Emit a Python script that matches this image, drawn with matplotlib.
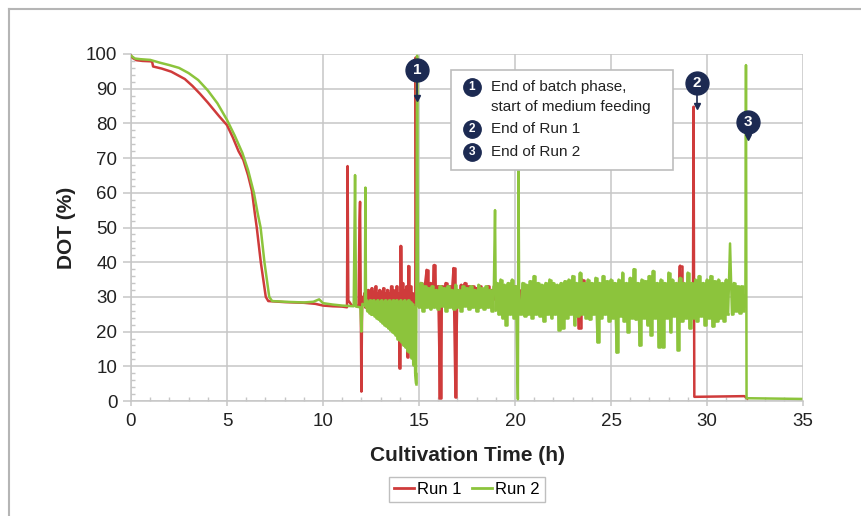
import numpy as np
import matplotlib
matplotlib.use("Agg")
import matplotlib.pyplot as plt
from matplotlib.lines import Line2D
from matplotlib.patches import Rectangle

plt.rcParams['font.family'] = ['Liberation Sans', 'DejaVu Sans']

# ---- data (DOT in %, time in h) ----
# Run 1: batch phase decline
run1_t_ramp = [0, 0.1, 0.3, 0.6, 1.0, 1.1, 1.15, 1.6, 2.1, 2.4, 2.8, 3.2, 3.6, 4.0, 4.3, 4.6, 5.0,
               5.3, 5.6, 5.85, 6.1, 6.3, 6.45, 6.55, 6.76, 7.02, 7.15, 8.0, 9.0, 9.6, 10.0, 10.5, 11.0, 11.25]
run1_dot_ramp = [99.5, 98.8, 98.2, 98.0, 97.9, 97.8, 96.4, 95.8, 94.9, 94.0, 92.8, 90.8, 88.5, 86.0, 84.0,
                 82.0, 79.5, 76.0, 72.0, 69.5, 65.0, 60.5, 54.0, 50.0, 40.0, 30.0, 28.8, 28.5, 28.3, 28.0,
                 27.5, 27.3, 27.2, 27.0]
run1_t_spikes = [11.28, 11.32, 11.5, 11.85, 11.9, 11.93, 11.97, 12.0, 12.04]
run1_dot_spikes = [67.7, 29, 27.5, 27.5, 52, 57.4, 28, 2.7, 30]
# 12.1 h .. 14.8 h
run1_noise_a = [28, 31, 27, 31.5, 28, 32, 29, 31, 28.5, 32.5, 29, 31.5, 28, 33, 29, 31, 27.5, 32, 28, 31.5,
                27, 32.5, 28, 31, 26.5, 32, 27.5, 31, 26, 33, 27, 32, 25, 31, 24, 33, 26, 31, 9.5, 44.7,
                27, 34, 24, 32, 22, 33, 12.8, 38.9, 24, 33, 20, 31, 15.7, 29, 10]
run1_t_feed = [14.83, 14.87]
run1_dot_feed = [99, 30]
# 15.0 h .. 19.0 h
run1_noise_b = [28, 34, 29, 33, 37.8, 29, 34, 30, 39.2, 29, 33, 1, 33, 30, 34, 29.5, 33, 30, 38.3, 1.2,
                32, 29, 33.5, 30, 34, 29.5, 33, 30, 33, 29, 32.5, 29.5, 33, 30, 32, 29, 33, 30, 32, 29.5, 32]
# 19.15 h .. 29.2 h
run1_noise_c = [27, 33, 26.5, 32.5, 27, 33, 26, 32, 27, 33.5, 26.5, 32, 27, 33, 26, 32.5, 27, 33, 26.5, 32,
                27, 33, 26, 32.5, 27, 33, 26.5, 32, 21, 35, 27, 32.5, 26, 33, 27, 32, 26.5, 33.5, 27, 32,
                26, 33, 27, 32.5, 26.5, 33, 27, 32, 26, 33, 27, 32.5, 26.5, 33, 27, 32, 26, 33.5, 27, 32,
                26.5, 33, 27, 39, 26, 32.5, 27, 32]
run1_t_end = [29.27, 29.3, 29.34, 31.95, 32.1]
run1_dot_end = [30, 84.8, 1.2, 1.4, 0.7]

# Run 2
run2_t_ramp = [0, 0.2, 0.5, 1.0, 1.5, 2.0, 2.5, 3.0, 3.5, 4.0, 4.5, 5.0, 5.4, 5.8, 6.1, 6.4, 6.6, 6.75,
               6.95, 7.2, 7.35, 8.0, 9.0, 9.5, 9.8, 10.0, 10.5, 11.0, 11.6]
run2_dot_ramp = [99.5, 98.7, 98.5, 98.3, 97.5, 96.8, 96.0, 94.5, 92.5, 89.5, 85.8, 81.0, 76.5, 71.5, 66.5,
                 60.0, 54.0, 50.0, 40.0, 30.0, 28.8, 28.6, 28.4, 28.6, 29.3, 28.2, 27.8, 27.5, 27.3]
run2_t_spikes = [11.67, 11.72, 11.95, 12.0, 12.05, 12.18, 12.21, 12.24]
run2_dot_spikes = [65.1, 27.2, 27.0, 20.0, 28.0, 27.5, 61.5, 27.0]
# 12.25 h .. 14.85 h
run2_noise_a = [29, 26, 28.5, 25.5, 29, 25, 28.5, 25, 29, 24.5, 28.5, 24, 29, 23.5, 28.5, 23, 29, 22.5,
                28.5, 22, 29, 21.5, 28.5, 21, 29, 20.5, 28.5, 20, 29, 19.5, 28.5, 19, 29, 18, 28.5, 17.5,
                29, 17, 28.5, 16, 29, 15.5, 28.5, 14.5, 29, 14, 28.5, 12.5, 28, 10.5, 27, 8, 5]
run2_t_feed = [14.9, 14.95]
run2_dot_feed = [99.5, 30]
# 15.0 h .. 18.9 h
run2_noise_b = [27, 34, 26, 33, 27, 32.5, 26.5, 33, 27, 32, 26.5, 33, 27.5, 32.5, 26, 33, 27, 32, 26.5, 33.5,
                27, 32, 26, 33, 27.5, 32.5, 26.5, 33, 27, 32, 26, 33.5, 27, 32.5, 26.5, 33, 27, 32, 26, 33]
run2_t_mid = [18.96, 19.0]
run2_dot_mid = [55, 26]
# 19.05 h .. 20.05 h
run2_noise_c = [34, 25, 35, 24, 33.5, 22, 34, 25, 35, 24, 33]
run2_t_dip = [20.15, 20.18, 20.22]
run2_dot_dip = [0.5, 68, 25]
# 20.3 h .. 31.1 h
run2_noise_d = [25, 34, 24.5, 33.5, 25, 34.5, 24, 36, 25, 34, 24.5, 33.5, 23, 34, 25, 35, 24, 34, 25, 33.5,
                20.5, 34, 21, 34.5, 24, 35, 25, 36, 22, 34, 24.5, 37, 25, 34, 24, 35, 23.5, 34, 25, 35.5,
                17, 34, 24, 36, 25, 34.5, 23, 35, 24, 34, 14, 35, 24.5, 37, 23, 34, 20, 35.5, 24, 38,
                23.5, 34, 16, 35, 24, 34.5, 22, 36, 19, 37.5, 24, 34, 15.6, 35, 15.6, 34, 24, 37, 20, 35,
                24.5, 34, 14.7, 35.5, 23, 34, 24, 37, 21, 34, 24, 35, 23, 36, 24.5, 34, 22, 35, 24, 36,
                21.5, 34.5, 23, 35, 24, 34, 23, 35, 25]
run2_t_late = [31.2]
run2_dot_late = [45.4]
# 31.3 h .. 32.0 h
run2_noise_e = [25, 34, 26, 33, 25.5, 33, 26, 30.5]
run2_t_end = [32.03, 32.06, 34.9]
run2_dot_end = [96.8, 0.8, 0.6]

# event markers: label, time, circle DOT, arrow tip DOT
events = [("1", 14.9, 95.4, 87.2), ("2", 29.46, 91.6, 85.0), ("3", 32.12, 80.5, 76.0)]
event_text = [["End of batch phase,", "start of medium feeding"], ["End of Run 1"], ["End of Run 2"]]


def noise(t0, t1, vals):
    return list(np.linspace(t0, t1, len(vals))), list(vals)


noise1 = [noise(12.1, 14.8, run1_noise_a), noise(15.0, 19.0, run1_noise_b),
          noise(19.15, 29.2, run1_noise_c)]
noise2 = [noise(12.25, 14.85, run2_noise_a), noise(15.0, 18.9, run2_noise_b),
          noise(19.05, 20.05, run2_noise_c), noise(20.3, 31.1, run2_noise_d),
          noise(31.3, 32.0, run2_noise_e)]

pieces1 = [(run1_t_ramp, run1_dot_ramp), (run1_t_spikes, run1_dot_spikes), noise1[0],
           (run1_t_feed, run1_dot_feed), noise1[1], noise1[2], (run1_t_end, run1_dot_end)]
pieces2 = [(run2_t_ramp, run2_dot_ramp), (run2_t_spikes, run2_dot_spikes), noise2[0],
           (run2_t_feed, run2_dot_feed), noise2[1], (run2_t_mid, run2_dot_mid), noise2[2],
           (run2_t_dip, run2_dot_dip), noise2[3], (run2_t_late, run2_dot_late), noise2[4],
           (run2_t_end, run2_dot_end)]

run1_t = [t for p in pieces1 for t in p[0]]
run1_dot = [v for p in pieces1 for v in p[1]]
run2_t = [t for p in pieces2 for t in p[0]]
run2_dot = [v for p in pieces2 for v in p[1]]

RED = '#cf3b3b'
GREEN = '#8cc43c'
NAVY = '#1c2a52'
GRID = '#c6c6c6'

fig = plt.figure(figsize=(8.61, 5.16), dpi=100)
ax = fig.add_axes([131 / 861, 1 - 401 / 516, 672 / 861, 347 / 516])

ax.plot(run1_t, run1_dot, color=RED, lw=1.8, zorder=3)
for t, v in noise1:
    ax.plot(t, v, color=RED, lw=1.8, zorder=3, drawstyle='steps-mid')
ax.plot(run2_t, run2_dot, color=GREEN, lw=1.8, zorder=4)
for t, v in noise2:
    ax.plot(t, v, color=GREEN, lw=1.8, zorder=4, drawstyle='steps-mid')

ax.set_xlim(0, 35)
ax.set_ylim(0, 100)
ax.set_xticks(np.arange(0, 36, 5))
ax.set_xticks(np.arange(0, 36, 1), minor=True)
ax.set_yticks(np.arange(0, 101, 10))
ax.set_yticks(np.arange(0, 101, 2), minor=True)
ax.grid(which='major', color=GRID, lw=1.1)
ax.set_axisbelow(True)
for s in ['top', 'right']:
    ax.spines[s].set_visible(False)
for s in ['left', 'bottom']:
    ax.spines[s].set_color(GRID)
    ax.spines[s].set_linewidth(1.1)
ax.tick_params(axis='x', which='major', direction='out', length=3.6, width=1.1, color=GRID,
               labelsize=13.5, pad=5, labelcolor='#222222')
ax.tick_params(axis='y', which='major', direction='out', length=5.8, width=1.1, color=GRID,
               labelsize=13.5, pad=4, labelcolor='#222222')
ax.tick_params(which='minor', direction='in', length=3, width=1, color=GRID)

ax.set_xlabel('Cultivation Time (h)', fontsize=15, fontweight='bold', color='#222222')
ax.set_ylabel('DOT (%)', fontsize=15, fontweight='bold', color='#222222')
ax.xaxis.set_label_coords(0.5, -0.13)
ax.yaxis.set_label_coords(-0.082, 0.5)

# event markers on the curves
for num, t, yc, ytip in events:
    ax.plot([t, t], [yc, ytip], color=NAVY, lw=1.2, zorder=7, clip_on=False)
    ax.plot([t], [ytip], marker='v', ms=5, color=NAVY, zorder=7, clip_on=False)
    ax.plot([t], [yc], marker='o', ms=16.5, color=NAVY, zorder=8, clip_on=False)
    ax.text(t, yc, num, color='white', fontsize=11, fontweight='bold', ha='center', va='center',
            zorder=9)

# explanation box
ax.add_patch(Rectangle((0.476, 0.6657), 0.3305, 0.2883, transform=ax.transAxes, facecolor='white',
                       edgecolor='#bdbdbd', lw=1.2, zorder=6))
line_y = [[0.904, 0.848], [0.784], [0.719]]
for (num, _, _, _), lines, ys in zip(events, event_text, line_y):
    ax.plot([0.507], [ys[0]], marker='o', ms=12.5, color=NAVY, transform=ax.transAxes, zorder=7)
    ax.text(0.507, ys[0], num, color='white', fontsize=8.5, fontweight='bold', ha='center', va='center',
            transform=ax.transAxes, zorder=8)
    for txt, y in zip(lines, ys):
        ax.text(0.535, y, txt, fontsize=11, va='center', ha='left', color='#222222',
                transform=ax.transAxes, zorder=8)

handles = [Line2D([], [], color=RED, lw=2), Line2D([], [], color=GREEN, lw=2)]
leg = fig.legend(handles, ['Run 1', 'Run 2'], loc='center', bbox_to_anchor=(0.542, 0.051), ncol=2,
                 fontsize=12, frameon=True, fancybox=False, edgecolor='#b0b0b0', handlelength=1.2,
                 handletextpad=0.2, columnspacing=0.6, borderpad=0.3)
leg.get_frame().set_linewidth(1.0)

# outer frame (top and left edges only)
fig.add_artist(Line2D([9 / 861, 1], [1 - 9 / 516, 1 - 9 / 516], transform=fig.transFigure,
                      color='#b5b5b5', lw=1.5))
fig.add_artist(Line2D([9 / 861, 9 / 861], [0, 1 - 9 / 516], transform=fig.transFigure,
                      color='#b5b5b5', lw=1.5))

fig.savefig('out.png', dpi=100)
